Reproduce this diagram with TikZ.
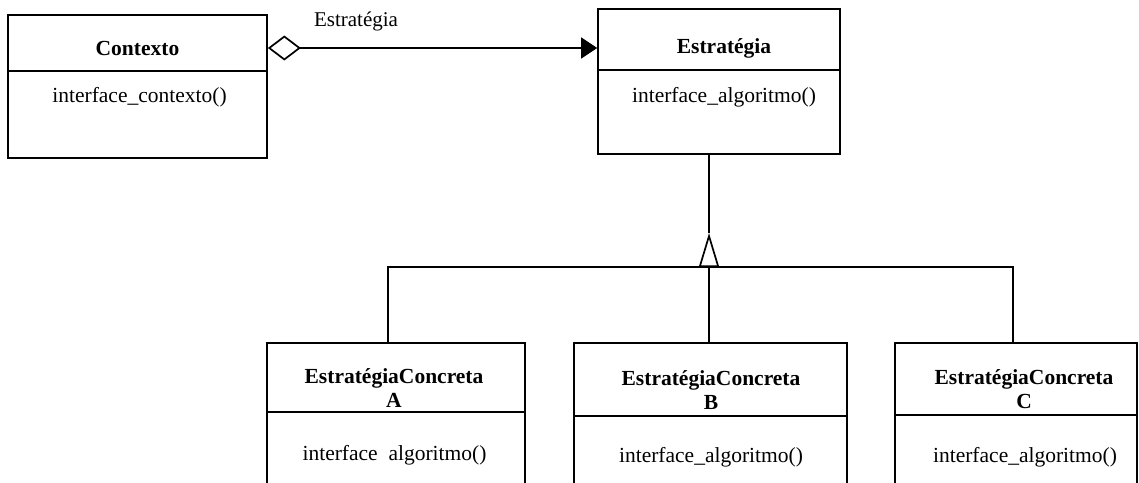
\documentclass[tikz,border=0pt]{standalone}
\usepackage{fontspec}
\setmainfont{Liberation Serif}
\usetikzlibrary{arrows.meta}
\begin{document}
\begin{tikzpicture}[x=1pt, y=-1pt, line width=1.7pt,
  classbox/.style={draw, rectangle, inner sep=0pt},
  classname/.style={font=\fontsize{21.5}{24}\selectfont\bfseries, align=center, inner sep=0pt},
  oper/.style={font=\fontsize{21.5}{24}\selectfont, inner sep=0pt},
  rolelabel/.style={font=\fontsize{21}{24}\selectfont, inner sep=0pt}]
\clip (0,0) rectangle (1139,482);

% class boxes
\node[classbox, minimum width=259pt, minimum height=143pt] (ctx) at (137.5,86.5) {};
\node[classbox, minimum width=242pt, minimum height=145pt] (est) at (719,81.5) {};
\node[classbox, minimum width=258pt, minimum height=177pt] (ca) at (396,431.5) {};
\node[classbox, minimum width=273pt, minimum height=177pt] (cb) at (710.5,431.5) {};
\node[classbox, minimum width=242pt, minimum height=177pt] (cc) at (1016,431.5) {};

% compartment dividers
\draw (ctx.west |- 0,71) -- (ctx.east |- 0,71);
\draw (est.west |- 0,70) -- (est.east |- 0,70);
\draw (ca.west |- 0,412) -- (ca.east |- 0,412);
\draw (cb.west |- 0,416) -- (cb.east |- 0,416);
\draw (cc.west |- 0,415) -- (cc.east |- 0,415);

% names and operations
\node[classname] (ctxT) at (137.5,48) {Contexto};
\node[oper] (ctxO) at (139.5,97) {interface\_contexto()};
\node[classname] (estT) at (724,48) {Estratégia};
\node[oper] (estO) at (724,97) {interface\_algoritmo()};
\node[classname] (caT) at (394,388) {EstratégiaConcreta\\A};
\node[oper] (caO) at (394.5,455) {interface\hspace{0.5em}algoritmo()};
\node[classname] (cbT) at (711,390) {EstratégiaConcreta\\B};
\node[oper] (cbO) at (711,457) {interface\_algoritmo()};
\node[classname] (ccT) at (1024,389) {EstratégiaConcreta\\C};
\node[oper] (ccO) at (1025,457) {interface\_algoritmo()};

% aggregation: Contexto holds an Estratégia
\draw[{Diamond[open, fill=white, length=33pt, width=25pt]}-{Triangle[length=16pt, width=21pt]}]
  (ctx.east |- ctxT) -- (est.west |- ctxT);
\node[rolelabel] (role) at (356,21) {Estratégia};

% generalisation tree
\coordinate (jA) at (388,267);
\coordinate (jB) at (709,267);
\coordinate (jC) at (1013,267);
\coordinate (apex) at (709,233);
\draw (jB |- est.south) -- (apex);
\draw (jA |- ca.north) -- (jA) -- (jC) -- (jC |- cc.north);
\draw (jB) -- (jB |- cb.north);
\draw[-{Triangle[open, fill=white, length=34pt, width=20pt]}] (jB) -- (apex);
\end{tikzpicture}
\end{document}
